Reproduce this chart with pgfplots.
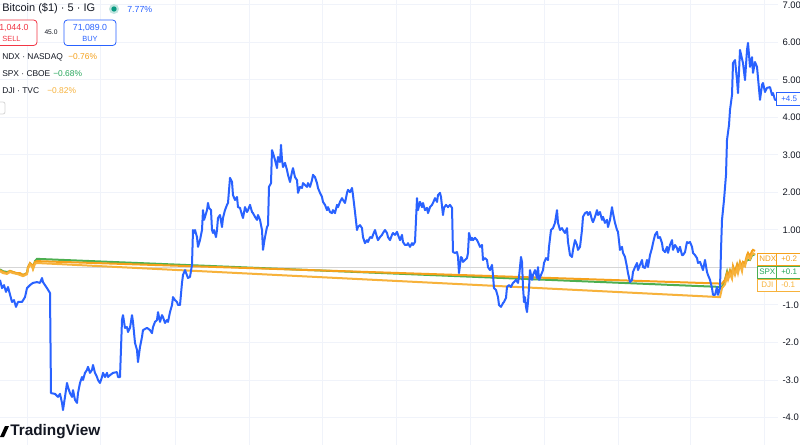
\documentclass[border=0pt]{standalone}
\usepackage{fontspec}
\setmainfont{Liberation Sans}
\usepackage{pgfplots}
\pgfplotsset{compat=1.18}
\definecolor{tvblue}{HTML}{2962FF}
\definecolor{tvorange}{HTML}{F5A11B}
\definecolor{tvyellow}{HTML}{F7B23B}
\definecolor{tvgreen}{HTML}{4CAF50}
\definecolor{tvgreentxt}{HTML}{26A65B}
\definecolor{tvred}{HTML}{F23645}
\definecolor{tvtext}{HTML}{131722}
\definecolor{tvgrid}{HTML}{F0F3FA}
\definecolor{tvzero}{HTML}{D6D6D6}
\definecolor{tvdot}{HTML}{089981}
\begin{document}
\begin{tikzpicture}
\fill[white] (0,0) rectangle (600pt,-333.75pt);
\useasboundingbox (0,0) rectangle (600pt,-333.75pt);
\begin{axis}[
  at={(0pt,-333.75pt)}, anchor=south west,
  scale only axis, width=583.5pt, height=333.75pt,
  xmin=0, xmax=778, ymin=-4.7333, ymax=7.1333,
  axis line style={draw=none},
  xtick=\empty,
  ytick={-4,-3,-2,-1,0,1,2,3,4,5,6,7},
  yticklabels={-4.0,-3.0,-2.0,-1.0,,1.00,2.00,3.00,4.00,5.00,6.00,7.00},
  yticklabel pos=right,
  major tick length=0pt,
  yticklabel style={anchor=west, inner sep=0pt, xshift=3.2pt, font=\fontsize{7.1pt}{8pt}\selectfont, text=tvtext},
  ymajorgrids, major grid style={draw=tvgrid, line width=0.75pt},
  unbounded coords=jump,
  clip=true,
]
% vertical grid lines
\addplot[tvgrid, line width=0.75pt, forget plot] coordinates {
(27,-5)(27,8)(27,nan)(100,-5)(100,8)(100,nan)(175,-5)(175,8)(175,nan)(249,-5)(249,8)(249,nan)
(322,-5)(322,8)(322,nan)(396,-5)(396,8)(396,nan)(470,-5)(470,8)(470,nan)(544,-5)(544,8)(544,nan)
(618,-5)(618,8)(618,nan)(690,-5)(690,8)(690,nan)(764,-5)(764,8)};
\addplot[tvzero, line width=1.1pt, forget plot] coordinates {(0,0) (778,0)};
% SPX
\addplot[tvgreen, line width=1.5pt] coordinates {
(0,-0.05)(3,-0.10)(7,-0.12)(10,-0.10)(13,-0.12)(17,-0.17)(20,-0.17)(23,-0.20)(27,-0.15)(28,0.00)(30,0.10)(32,0.07)(33,0.00)(35,0.17)(37,0.23)
(722,-0.52)(725,-0.33)(727,-0.12)(728,-0.25)(730,-0.10)(732,-0.20)(733,0.00)(735,-0.12)(737,0.05)(738,-0.07)(740,0.12)(742,0.00)(743,0.10)(745,0.10)(747,0.20)(748,0.20)(750,0.20)(752,0.33)(753,0.33)(755,0.36)};
% NDX
\addplot[tvorange, line width=1.5pt] coordinates {
(0,-0.07)(3,-0.12)(7,-0.15)(10,-0.09)(13,-0.12)(17,-0.15)(20,-0.15)(23,-0.20)(27,-0.15)(28,0.01)(30,0.12)(32,0.07)(33,-0.01)(35,0.15)(37,0.17)
(722,-0.43)(725,-0.33)(727,-0.15)(728,-0.25)(730,-0.07)(732,-0.20)(733,0.04)(735,-0.12)(737,0.07)(738,-0.07)(740,0.15)(742,0.01)(743,0.15)(745,0.12)(747,0.33)(748,0.39)(750,0.30)(752,0.44)(753,0.47)(755,0.44)};
% DJI
\addplot[tvyellow, line width=1.5pt] coordinates {
(0,-0.10)(3,-0.15)(7,-0.17)(10,-0.12)(13,-0.15)(17,-0.17)(20,-0.20)(23,-0.23)(27,-0.18)(28,-0.03)(30,0.08)(32,0.03)(33,-0.05)(35,0.10)(37,0.12)
(720,-0.79)(722,-0.55)(725,-0.45)(727,-0.25)(728,-0.33)(730,-0.17)(732,-0.30)(733,-0.05)(735,-0.20)(737,-0.03)(738,-0.15)(740,0.08)(742,-0.10)(743,0.08)(745,0.03)(747,0.25)(748,0.30)(750,0.22)(752,0.35)(753,0.38)(755,0.35)};
% Bitcoin
\addplot[tvblue, line width=1.5pt, line join=round] coordinates {
(0,-0.33)(2,-0.55)(4,-0.47)(6,-0.65)(8,-0.52)(12,-0.92)(14,-0.87)(16,-1.05)(18,-0.92)(22,-0.92)(25,-0.79)(27,-0.55)(30,-0.47)(33,-0.41)(37,-0.39)(40,-0.41)(42,-0.28)(43,-0.39)(47,-0.55)(50,-0.68)
(51,-3.35)(55,-3.37)(58,-3.45)(60,-3.37)(62,-3.61)(63,-3.80)(65,-3.45)(67,-3.08)(68,-3.19)(70,-3.35)(72,-3.45)(73,-3.27)(75,-3.53)(77,-3.61)(78,-3.35)(80,-3.08)(82,-2.92)(83,-3.00)(85,-2.81)(87,-2.73)(88,-2.65)(90,-2.81)(92,-2.73)(93,-2.60)(95,-2.81)(97,-2.92)(98,-3.00)(100,-3.08)(102,-2.92)(103,-2.81)(105,-2.92)(107,-2.81)(108,-2.92)(110,-2.87)(113,-2.81)(117,-2.79)(118,-2.92)(120,-2.92)
(122,-1.40)(123,-1.27)(125,-1.61)(127,-1.59)(128,-1.72)(130,-1.61)(132,-1.27)(133,-1.45)(135,-2.01)(137,-2.20)(138,-2.52)(140,-2.12)(142,-1.85)(143,-1.67)(147,-1.61)(150,-1.67)(152,-1.75)(153,-1.59)(155,-1.45)(157,-1.40)(158,-1.19)(160,-1.45)(162,-1.27)(163,-1.32)(165,-1.48)(167,-1.40)(168,-1.45)(170,-1.19)(172,-1.00)(173,-0.79)(175,-0.87)(177,-0.92)(178,-1.00)(180,-1.00)(182,-0.41)(183,-0.20)(185,-0.07)(188,-0.28)(190,-0.25)(192,0.07)
(193,1.00)(194,0.92)(195,1.00)(197,0.81)(198,0.55)(200,0.73)(202,1.00)(203,1.53)(204,1.27)(205,1.35)(207,1.53)(208,1.72)(209,1.59)(211,1.53)(212,1.00)(213,0.92)(214,1.00)(216,0.81)(217,1.00)(218,1.32)(220,1.40)(222,1.08)(223,1.32)(225,1.53)(227,1.67)(228,1.72)(230,2.39)(232,2.28)(233,1.93)(235,1.80)(237,1.88)(238,1.61)(240,1.59)(242,1.40)(243,1.32)(245,1.61)(247,1.48)(248,1.53)(250,1.67)(252,1.48)(253,1.45)(255,1.35)(257,1.27)(258,1.40)(260,1.27)(262,1.00)(263,0.47)(264,0.65)(265,0.81)(267,1.08)(268,1.13)
(269,2.15)(271,2.25)(272,3.13)(273,3.05)(275,2.87)(277,2.65)(278,2.95)(280,2.81)(281,3.27)(282,2.87)(283,2.68)(285,2.79)(287,2.60)(288,2.47)(290,2.28)(292,2.55)(293,2.65)(295,2.41)(297,2.33)(298,1.99)(300,2.15)(302,2.12)(303,2.25)(305,2.20)(307,2.15)(308,2.25)(310,2.15)(312,2.33)(313,2.47)(315,2.41)(317,2.25)(318,2.12)(320,1.99)(322,1.88)(323,1.75)(325,1.67)(327,1.53)(328,1.61)(330,1.48)(332,1.45)(333,1.53)(335,1.45)(337,1.67)(338,1.61)(340,1.75)(342,1.85)(343,1.80)(345,1.72)(347,1.99)(348,2.07)(350,2.01)(352,2.12)(353,1.93)(355,1.48)(357,1.00)(358,1.08)(360,1.13)(362,1.05)(363,0.81)(365,0.65)(367,0.73)(368,0.68)
(370,0.81)(372,0.79)(373,0.87)(375,1.00)(377,0.81)(378,0.73)(380,0.81)(382,0.87)(383,0.92)(385,1.00)(387,0.92)(388,0.81)(390,0.73)(392,0.87)(393,0.92)(395,0.87)(397,0.95)(398,0.87)(400,0.73)(402,0.87)(403,0.68)(405,0.60)(407,0.60)(408,0.65)(410,0.55)(412,0.65)(413,0.60)(415,0.68)
(417,1.85)(418,1.53)(420,1.75)(422,1.61)(423,1.72)(425,1.53)(427,1.59)(428,1.45)(430,1.61)(432,1.67)(433,1.72)(435,1.85)(437,1.75)(438,1.93)(440,1.99)(441,1.88)(443,1.40)(444,1.59)(446,1.67)(448,1.61)(450,1.67)(452,1.59)
(453,0.41)(455,0.39)(457,0.41)(458,0.28)(459,-0.15)(461,0.28)(462,0.25)(463,0.15)(465,0.20)(467,0.25)(468,0.39)(469,0.92)(471,0.73)(472,0.79)(473,0.73)(475,0.79)(477,0.73)(478,0.68)(480,0.55)(482,0.60)(483,0.20)(485,0.25)(487,0.20)(488,0.01)(490,-0.07)(492,0.07)(493,-0.20)(494,-0.55)(496,-0.60)(498,-0.79)(499,-1.00)(501,-1.05)(503,-0.95)(504,-0.92)(506,-0.81)(507,-0.52)(509,-0.47)(511,-0.52)(513,-0.41)(514,-0.39)(516,-0.33)(518,-0.41)(519,-0.25)(521,0.28)(522,0.15)(523,-0.52)(524,-0.92)(525,-0.79)(526,-1.05)(527,-1.19)(528,-0.92)(529,-0.55)(530,-0.07)(532,-0.33)(533,-0.20)(535,-0.07)(537,-0.28)(538,0.01)(539,-0.33)(541,-0.20)(543,-0.07)(544,0.12)(546,0.25)(548,0.20)(549,0.55)
(551,1.00)(553,1.05)(555,1.19)(557,1.53)(558,1.19)(560,1.00)(562,1.05)(563,1.00)(565,0.92)(567,1.05)(568,0.68)(570,0.33)(572,0.28)(573,0.47)(575,0.73)(577,0.60)(578,0.47)(580,0.55)(582,1.00)(583,1.35)(585,1.45)(587,1.48)(588,1.40)(590,1.48)(592,1.27)(593,1.21)(595,1.35)(597,1.53)(598,1.40)(600,1.48)(602,1.27)(603,1.35)(605,1.19)(607,1.27)(608,1.08)(610,1.27)(612,1.61)(613,1.45)(615,1.19)(617,1.00)(618,0.95)(620,0.47)(622,0.55)(623,0.39)(625,0.28)(627,0.01)(628,-0.15)(630,-0.39)(632,-0.33)(633,-0.12)(635,0.01)(637,0.12)(638,-0.07)(640,0.07)(642,0.20)(643,0.01)(645,-0.01)(647,0.20)(648,0.01)
(650,0.33)(652,0.52)(653,0.65)(655,0.87)(657,0.95)(658,0.79)(660,0.81)(662,0.65)(663,0.47)(665,0.41)(667,0.55)(668,0.39)(670,0.60)(672,0.73)(673,0.47)(675,0.60)(677,0.52)(678,0.41)(680,0.55)(682,0.33)(683,0.33)(685,0.41)(687,0.68)(688,0.65)(690,0.68)(692,0.55)(693,0.39)(695,0.33)(697,0.25)(698,0.12)(700,0.15)(702,0.01)(703,-0.07)(705,0.20)(707,-0.12)(708,-0.20)(710,-0.33)(712,-0.55)(713,-0.73)(715,-0.73)(717,-0.52)(718,-0.73)(720,-0.55)
(721,0.47)(722,1.27)(724,1.80)(726,2.47)(727,3.40)(729,3.80)(730,4.20)(732,4.60)(733,5.45)(735,5.53)(737,5.00)(738,4.65)(740,5.80)(743,5.45)(745,5.00)(747,5.80)(748,5.99)(750,5.35)(752,5.61)(753,5.19)(755,5.48)(757,5.35)(760,4.47)(762,4.87)(763,4.92)(765,4.68)(767,4.79)(770,4.81)(772,4.60)(773,4.65)(775,4.47)(777,4.47)};
\end{axis}
\begin{scope}[x=0.75pt,y=-0.75pt]
% header
\node[anchor=west, inner sep=0pt, text=tvtext, font=\fontsize{8.25pt}{9pt}\selectfont] at (2,9) {Bitcoin (\$1) · 5 · IG};
\fill[tvdot!25] (114,9) circle (3.75pt);
\fill[tvdot] (114,9) circle (2pt);
\node[anchor=west, inner sep=0pt, text=tvblue, font=\fontsize{6.6pt}{7pt}\selectfont] at (127,9) {7.77\%};
% sell / buy
\draw[tvred, line width=0.6pt, rounded corners=2.5pt, fill=white] (-14,20) rectangle (37,45.5);
\node[inner sep=0pt, text=tvred, font=\fontsize{6.6pt}{7pt}\selectfont] at (11.5,27.5) {71,044.0};
\node[inner sep=0pt, text=tvred, font=\fontsize{5.6pt}{6pt}\selectfont] at (11.5,38.5) {SELL};
\node[inner sep=0pt, text=tvtext, font=\fontsize{5pt}{6pt}\selectfont] at (51,32.5) {45.0};
\draw[tvblue, line width=0.6pt, rounded corners=2.5pt, fill=white] (64,20) rectangle (116,45.5);
\node[inner sep=0pt, text=tvblue, font=\fontsize{6.6pt}{7pt}\selectfont] at (90,27.5) {71,089.0};
\node[inner sep=0pt, text=tvblue, font=\fontsize{5.6pt}{6pt}\selectfont] at (90,38.5) {BUY};
% legend
\begin{scope}[every node/.style={anchor=west, inner sep=0pt, font=\fontsize{6.3pt}{7pt}\selectfont}]
\node[text=tvtext] at (2,57) {NDX · NASDAQ};
\node[text=tvorange] at (68,57) {−0.76\%};
\node[text=tvtext] at (2,74) {SPX · CBOE};
\node[text=tvgreentxt] at (53,74) {−0.68\%};
\node[text=tvtext] at (2,91) {DJI · TVC};
\node[text=tvyellow] at (47,91) {−0.82\%};
\end{scope}
\draw[tvzero, line width=0.6pt, rounded corners=1.5pt] (-8,102) rectangle (5,114);
% right labels
\begin{scope}[every node/.style={anchor=west, inner sep=0pt, font=\fontsize{6pt}{7pt}\selectfont}]
\draw[tvblue, line width=0.6pt, fill=white] (776,92.5) rectangle (806,105.5);
\node[text=tvblue] at (781,99) {+4.5};
\draw[tvorange, line width=0.6pt, fill=white] (757,253) rectangle (776,265);
\draw[tvorange, line width=0.6pt, fill=white] (776,253) rectangle (806,265);
\node[text=tvorange] at (759,259) {NDX};
\node[text=tvorange] at (781,259) {+0.2};
\draw[tvgreen, line width=0.6pt, fill=white] (757,266) rectangle (776,278);
\draw[tvgreen, line width=0.6pt, fill=white] (776,266) rectangle (806,278);
\node[text=tvgreentxt] at (759,272) {SPX};
\node[text=tvgreentxt] at (781,272) {+0.1};
\draw[tvyellow, line width=0.6pt, fill=white] (757,279) rectangle (776,291);
\draw[tvyellow, line width=0.6pt, fill=white] (776,279) rectangle (806,291);
\node[text=tvyellow] at (761,285) {DJI};
\node[text=tvyellow] at (781,285) {-0.1};
\end{scope}
% logo
\fill[black] (0,437) -- (4,437) -- (9,426) -- (5,426) -- cycle;
\node[anchor=west, inner sep=0pt, text=tvtext, font=\bfseries\fontsize{11.5pt}{12pt}\selectfont] at (10,432) {TradingView};
\end{scope}
\end{tikzpicture}
\end{document}
